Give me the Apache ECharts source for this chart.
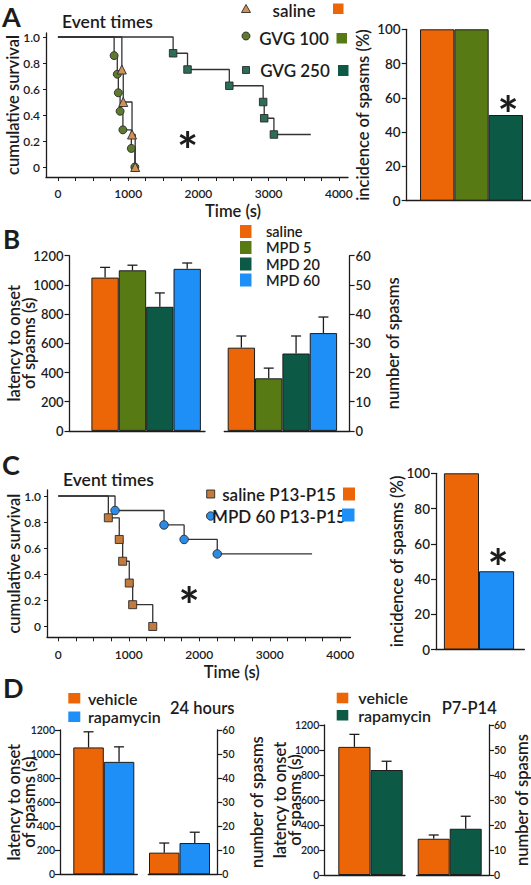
<!DOCTYPE html>
<html><head><meta charset="utf-8">
<script src="https://cdn.jsdelivr.net/npm/echarts@6/dist/echarts.min.js"></script>
<style>html,body{margin:0;padding:0;background:#fff;}#c{width:531px;height:885px;}</style>
</head><body><div id="c"></div>
<script>
// ---------------- DATA ----------------
// Kaplan-Meier axes
const kmXLabels = [0, 1000, 2000, 3000, 4000];
const kmXTicks = [0, 250, 500, 750, 1000, 1250, 1500, 1750, 2000, 2250, 2500, 2750, 3000, 3250, 3500, 3750, 4000];
const kmYLabels = [0, 0.2, 0.4, 0.6, 0.8, 1.0];

// Panel A
const aGroups = ['saline', 'GVG 100', 'GVG 250'];
const aSalineTimes = [910, 930, 1055, 1100];
const aSalineSurv = [0.75, 0.5, 0.25, 0];
const aGvg100Times = [800, 845, 860, 885, 925, 1045, 1095];
const aGvg100Surv = [0.857, 0.714, 0.571, 0.429, 0.286, 0.143, 0];
const aGvg250Times = [1640, 1845, 2440, 2922, 2937, 3075];
const aGvg250Surv = [0.875, 0.75, 0.625, 0.5, 0.375, 0.25];
const aGvg250Censor = 3600;
const aIncidence = [100, 100, 50];

// Panel B
const bGroups = ['saline', 'MPD 5', 'MPD 20', 'MPD 60'];
const bLatency = [1050, 1100, 850, 1110];
const bLatencyErr = [70, 35, 95, 40];
const bSpasms = [28.5, 18, 26.5, 33.5];
const bSpasmsErr = [4, 3.5, 6, 5.5];

// Panel C
const cGroups = ['saline P13-P15', 'MPD 60 P13-P15'];
const cSalineTimes = [710, 865, 913, 1007, 1055, 1340];
const cSalineSurv = [0.833, 0.667, 0.5, 0.333, 0.167, 0];
const cMpdTimes = [805, 1500, 1785, 2255];
const cMpdSurv = [0.889, 0.778, 0.667, 0.556];
const cMpdCensor = 3600;
const cIncidence = [100, 44.4];

// Panel D
const dGroups = ['vehicle', 'rapamycin'];
const d24Latency = [1055, 935];
const d24LatencyErr = [130, 125];
const d24Spasms = [9, 13];
const d24SpasmsErr = [4, 4.5];
const dP7Latency = [1025, 840];
const dP7LatencyErr = [100, 70];
const dP7Spasms = [14.5, 18.5];
const dP7SpasmsErr = [1.5, 5];

// ---------------- STYLE ----------------
const FONT = 'Lato';
const INK = '#1c1c1c';
const ORANGE = '#EC6608', OLIVE = '#587A14', DKGREEN = '#0C5A45', BLUE = '#1E8FF6';
const MK_A_SAL = '#D3915A', MK_A_100 = '#5E7B2D', MK_A_250 = '#2C6C58';
const MK_C_SAL = '#C47A3A', MK_C_MPD = '#2B8BE6';

const chart = echarts.init(document.getElementById('c'), null, {renderer: 'svg', width: 531, height: 885});

const grids = [
  {left: 46, top: 33, width: 302, height: 144},          // 0 A KM
  {left: 406.7, top: 29.3, width: 124.3, height: 171.4}, // 1 A bars
  {left: 69.5, top: 255.7, width: 135.5, height: 175.2}, // 2 B latency
  {left: 224.3, top: 255.7, width: 125.3, height: 175.2},// 3 B spasms
  {left: 47, top: 490, width: 303.5, height: 147.3},     // 4 C KM
  {left: 436, top: 473.3, width: 88.4, height: 176.2},   // 5 C bars
  {left: 60, top: 730, width: 77.3, height: 144.3},      // 6 D 24h latency
  {left: 148.3, top: 730, width: 69, height: 144.3},     // 7 D 24h spasms
  {left: 324.3, top: 725, width: 80.7, height: 150},     // 8 D P7 latency
  {left: 416.7, top: 725, width: 72.3, height: 150}      // 9 D P7 spasms
].map(g => Object.assign({containLabel: false, outerBoundsMode: 'none'}, g));

const axisLine = {show: true, onZero: false, lineStyle: {color: INK, width: 1.3}};
const nameStyle = (size, extra) => Object.assign({fontFamily: FONT, fontSize: size, fontWeight: 600, color: INK}, extra || {});
const plain = v => String(v);

function kmX(gi, min, max, gap, margin, shift) {
  return {gridIndex: gi, type: 'value', min, max, axisLine,
    axisTick: {show: true, customValues: kmXTicks, length: 4, lineStyle: {color: INK, width: 1}},
    axisLabel: {customValues: kmXLabels, fontFamily: FONT, fontSize: 12, fontWeight: 600, color: INK, margin, formatter: plain},
    splitLine: {show: false},
    name: 'Time (s)', nameLocation: 'middle', nameGap: gap, nameMoveOverlap: false,
    nameTextStyle: nameStyle(16.5, {padding: [0, 0, 0, shift]})};
}
function kmY(gi, min, max, gap) {
  return {gridIndex: gi, type: 'value', min, max, axisLine,
    axisTick: {show: true, customValues: kmYLabels, length: 3, lineStyle: {color: INK, width: 1}},
    axisLabel: {customValues: kmYLabels, fontFamily: FONT, fontSize: 12, fontWeight: 600, color: INK, margin: 6,
      formatter: v => (v === 0 ? '0' : v.toFixed(1))},
    splitLine: {show: false},
    name: 'cumulative survival', nameLocation: 'middle', nameRotate: 90, nameGap: gap, nameMoveOverlap: false,
    nameTextStyle: nameStyle(16.5)};
}
function barX(gi, min, max) {
  return {gridIndex: gi, type: 'value', min, max, axisLine,
    axisTick: {show: false}, axisLabel: {show: false}, splitLine: {show: false}};
}
function barY(gi, max, interval, pos, name, gap, tickSize, margin) {
  return {gridIndex: gi, type: 'value', position: pos, min: 0, max, interval, axisLine,
    axisTick: {show: true, length: 5, lineStyle: {color: INK, width: 1.2}},
    axisLabel: {fontFamily: FONT, fontSize: tickSize, fontWeight: 600, color: INK, margin: margin || 6, formatter: plain},
    splitLine: {show: false},
    name, nameLocation: 'middle', nameRotate: 90, nameGap: gap, nameMoveOverlap: false,
    nameTextStyle: nameStyle(16.5, {lineHeight: 15.5})};
}

function kmLine(gi, times, surv, censor) {
  const d = [[0, 1]];
  times.forEach((t, i) => d.push([t, surv[i]]));
  if (censor != null) d.push([censor, surv[surv.length - 1]]);
  return {type: 'line', xAxisIndex: gi, yAxisIndex: gi, step: 'end', data: d, showSymbol: false,
    lineStyle: {color: '#333', width: 1.3}, silent: true, z: 2};
}
function kmMarks(gi, times, surv, symbol, size, color) {
  return {type: 'scatter', xAxisIndex: gi, yAxisIndex: gi, symbol, symbolSize: size,
    data: times.map((t, i) => [t, surv[i]]),
    itemStyle: {color, borderColor: '#2a2a2a', borderWidth: 0.9, opacity: 1}, silent: true, z: 3};
}
function bars(gi, vals, colors) {
  return {type: 'bar', xAxisIndex: gi, yAxisIndex: gi, barCategoryGap: '0%', barGap: '0%',
    data: vals.map((v, i) => ({value: [i, v], itemStyle: {color: colors[i]}})),
    itemStyle: {borderColor: INK, borderWidth: 1}, silent: true, z: 2};
}
function renderErr(params, api) {
  const x = api.value(0), v = api.value(1), e = api.value(2);
  const b = api.coord([x, v]);
  const t = api.coord([x, v + e]);
  const half = 5;
  const style = {stroke: INK, lineWidth: 1.3, fill: null};
  return {type: 'group', children: [
    {type: 'line', shape: {x1: b[0], y1: b[1], x2: t[0], y2: t[1]}, style},
    {type: 'line', shape: {x1: t[0] - half, y1: t[1], x2: t[0] + half, y2: t[1]}, style}
  ]};
}
function errs(gi, vals, e) {
  return {type: 'custom', xAxisIndex: gi, yAxisIndex: gi, renderItem: renderErr, clip: false,
    data: vals.map((v, i) => [i, v, e[i]]), silent: true, z: 5};
}

const xAxis = [
  kmX(0, -170, 4130, 25, 10, 72),
  barX(1, -0.888, 2.733),
  barX(2, -1.30, 3.65),
  barX(3, -0.624, 3.957),
  kmX(4, -160, 4145, 26, 11, 66),
  barX(5, -0.725, 1.793),
  barX(6, -0.936, 1.598),
  barX(7, -0.523, 1.739),
  barX(8, -0.935, 1.571),
  barX(9, -0.531, 1.728)
];
const yAxis = [
  kmY(0, -0.0769, 1.0308, 24.5),
  barY(1, 100, 20, 'left', 'incidence of spasms (%)', 36, 13.5),
  barY(2, 1200, 200, 'left', 'latency to onset\nof spasms (s)', 32.5, 13),
  barY(3, 60, 10, 'right', 'number of spasms', 36, 13),
  kmY(4, -0.083, 1.046, 25),
  barY(5, 100, 20, 'left', 'incidence of spasms (%)', 31, 13.5),
  barY(6, 1200, 200, 'left', 'latency to onset\nof spasms (s)', 23, 10.5, 5),
  barY(7, 60, 10, 'right', 'number of spasms', 32, 10.5, 5),
  barY(8, 1200, 200, 'left', 'latency to onset\nof spasms (s)', 21.5, 10.5, 5),
  barY(9, 60, 10, 'right', 'number of spasms', 25, 10.5, 5)
];

const aColors = [ORANGE, OLIVE, DKGREEN];
const bColors = [ORANGE, OLIVE, DKGREEN, BLUE];
const cColors = [ORANGE, BLUE];
const d24Colors = [ORANGE, BLUE];
const dP7Colors = [ORANGE, DKGREEN];

const series = [
  kmLine(0, aGvg250Times, aGvg250Surv, aGvg250Censor),
  kmLine(0, aGvg100Times, aGvg100Surv),
  kmLine(0, aSalineTimes, aSalineSurv),
  kmMarks(0, aGvg250Times, aGvg250Surv, 'rect', 7.5, MK_A_250),
  kmMarks(0, aGvg100Times, aGvg100Surv, 'circle', 8, MK_A_100),
  kmMarks(0, aSalineTimes, aSalineSurv, 'triangle', 9, MK_A_SAL),
  bars(1, aIncidence, aColors),
  bars(2, bLatency, bColors), errs(2, bLatency, bLatencyErr),
  bars(3, bSpasms, bColors), errs(3, bSpasms, bSpasmsErr),
  kmLine(4, cMpdTimes, cMpdSurv, cMpdCensor),
  kmLine(4, cSalineTimes, cSalineSurv),
  kmMarks(4, cMpdTimes, cMpdSurv, 'circle', 8.5, MK_C_MPD),
  kmMarks(4, cSalineTimes, cSalineSurv, 'rect', 8, MK_C_SAL),
  bars(5, cIncidence, cColors),
  bars(6, d24Latency, d24Colors), errs(6, d24Latency, d24LatencyErr),
  bars(7, d24Spasms, d24Colors), errs(7, d24Spasms, d24SpasmsErr),
  bars(8, dP7Latency, dP7Colors), errs(8, dP7Latency, dP7LatencyErr),
  bars(9, dP7Spasms, dP7Colors), errs(9, dP7Spasms, dP7SpasmsErr)
];

// ---------------- ANNOTATIONS ----------------
function txt(x, y, s, size, o) {
  o = o || {};
  return {type: 'text', x, y, silent: true, z: 10, style: {text: s, fontFamily: FONT, fontSize: size,
    fontWeight: o.weight || 600, fill: INK, align: o.align || 'left', verticalAlign: 'middle'}};
}
function box(x, y, w, h, fill, stroke) {
  return {type: 'rect', silent: true, z: 10, shape: {x, y, width: w, height: h},
    style: {fill, stroke: stroke || null, lineWidth: stroke ? 0.9 : 0}};
}
function star(x, y) { return txt(x, y + 12, '*', 50, {align: 'center', weight: 'bold'}); }

const G = [
  txt(2, 16.5, 'A', 27, {weight: 'bold'}),
  txt(3, 239, 'B', 26, {weight: 'bold'}),
  txt(2, 464, 'C', 27, {weight: 'bold'}),
  txt(3, 687, 'D', 27, {weight: 'bold'}),
  txt(62, 21.5, 'Event times', 17.5),
  txt(63, 479, 'Event times', 17.5),
  // A legend
  {type: 'polygon', silent: true, z: 10, shape: {points: [[246, 4.5], [250.5, 12.5], [241.5, 12.5]]},
    style: {fill: MK_A_SAL, stroke: '#2a2a2a', lineWidth: 0.9}},
  txt(294, 10, aGroups[0], 17, {align: 'center'}),
  box(333, 3.5, 10.5, 10.5, ORANGE),
  {type: 'circle', silent: true, z: 10, shape: {cx: 246, cy: 36, r: 4}, style: {fill: MK_A_100, stroke: '#2a2a2a', lineWidth: 0.9}},
  txt(294, 38.5, aGroups[1], 17, {align: 'center'}),
  box(336.5, 33, 10.5, 10.5, OLIVE),
  box(242.5, 66.5, 7, 7, MK_A_250, '#2a2a2a'),
  txt(295, 70.5, aGroups[2], 17, {align: 'center'}),
  box(338, 65, 10.5, 11, DKGREEN),
  // B legend
  box(240, 225, 11.5, 13, bColors[0]), txt(266, 231.5, bGroups[0], 14.5),
  box(240, 241, 11.5, 13, bColors[1]), txt(266, 247.3, bGroups[1], 14.5),
  box(240, 257.5, 11.5, 13, bColors[2]), txt(266, 264, bGroups[2], 14.5),
  box(240, 273.5, 11.5, 13, bColors[3]), txt(266, 280, bGroups[3], 14.5),
  // C legend
  box(206.7, 490, 8, 8, MK_C_SAL, '#2a2a2a'),
  txt(279, 494.5, cGroups[0], 17, {align: 'center'}),
  box(343, 487.5, 12, 13, ORANGE),
  {type: 'circle', silent: true, z: 10, shape: {cx: 210.7, cy: 516, r: 4.2}, style: {fill: MK_C_MPD, stroke: '#2a2a2a', lineWidth: 0.9}},
  txt(279, 516.5, cGroups[1], 17, {align: 'center'}),
  box(342, 508.5, 12.5, 13, BLUE),
  // D legends
  box(68.3, 693, 12, 10.5, d24Colors[0]), txt(88, 698, dGroups[0], 16),
  box(68.3, 711.5, 12, 10.5, d24Colors[1]), txt(88, 716.5, dGroups[1], 16),
  txt(170, 707.5, '24 hours', 16.5),
  box(336.7, 692.7, 11.6, 10.6, dP7Colors[0]), txt(358.3, 697.5, dGroups[0], 16),
  box(336.7, 710, 11.6, 10.5, dP7Colors[1]), txt(358.3, 715.5, dGroups[1], 16),
  txt(441.7, 707.5, 'P7-P14', 16.5),
  // significance stars
  star(187.5, 137.5), star(508, 101.7), star(189, 593), star(498, 555)
];

chart.setOption({
  animation: false,
  backgroundColor: '#fff',
  textStyle: {fontFamily: FONT},
  grid: grids,
  xAxis, yAxis, series,
  graphic: {elements: G}
});
</script></body></html>
